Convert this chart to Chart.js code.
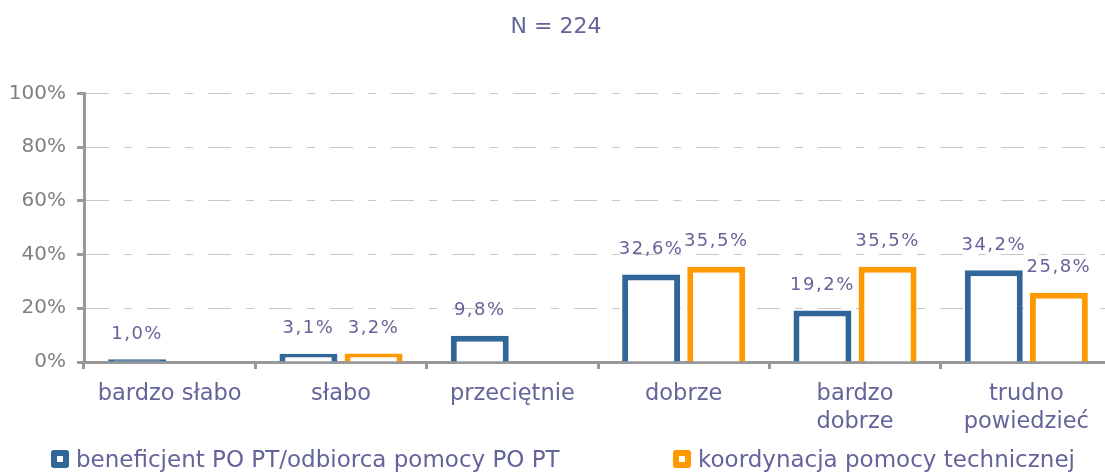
<!DOCTYPE html>
<html>
<head>
<meta charset="utf-8">
<script src="https://cdn.jsdelivr.net/npm/chart.js@4/dist/chart.umd.min.js"></script>
<style>
    body { margin: 0; background: #fff; }
    #wrap { width: 1105px; height: 473px; overflow: hidden; }
</style>
</head>
<body>
<div id="wrap"><canvas id="chart" width="1112" height="473"></canvas></div>
<script>
const kategorie = ['bardzo słabo', 'słabo', 'przeciętnie', 'dobrze', ['bardzo', 'dobrze'], ['trudno', 'powiedzieć']];
const beneficjent = [1.0, 3.1, 9.8, 32.6, 19.2, 34.2];
const koordynacja = [null, 3.2, null, 35.5, 35.5, 25.8];
const serie = ['beneficjent PO PT/odbiorca pomocy PO PT', 'koordynacja pomocy technicznej'];
const yTicks = [0, 20, 40, 60, 80, 100];
const tytul = 'N = 224';

const TEXT = '#64649a';
const AXIS = '#999999';
const BLUE = '#306698';
const ORANGE = '#ff9900';

Chart.defaults.font.family = "'DejaVu Sans', Verdana, sans-serif";

// bardzo niskie słupki są w całości obrysem
function fillFor(color) {
    return ctx => (ctx.raw !== null && ctx.raw < 2) ? color : '#ffffff';
}

// etykiety wartości nad słupkami
const valueLabels = {
    id: 'valueLabels',
    afterDatasetsDraw(chart) {
        const ctx = chart.ctx;
        ctx.save();
        ctx.font = "18px 'DejaVu Sans'";
        ctx.fillStyle = TEXT;
        ctx.textAlign = 'center';
        ctx.textBaseline = 'middle';
        ctx.letterSpacing = '1.5px';
        chart.data.datasets.forEach((ds, i) => {
            chart.getDatasetMeta(i).data.forEach((el, j) => {
                const v = ds.data[j];
                if (v === null || v === undefined) return;
                ctx.fillText(v.toFixed(1).replace('.', ',') + '%', el.x, el.y - 25);
            });
        });
        ctx.restore();
    }
};

// legenda na dole
const bottomLegend = {
    id: 'bottomLegend',
    afterDraw(chart) {
        const ctx = chart.ctx;
        ctx.save();
        ctx.font = "23px 'DejaVu Sans'";
        const box = 18, gapText = 7, starts = [51, 673];
        const cy = 459;
        chart.data.datasets.forEach((ds, i) => {
            const x = starts[i];
            ctx.fillStyle = ds.borderColor;
            ctx.beginPath();
            ctx.roundRect(x, cy - box / 2, box, box, 3);
            ctx.fill();
            ctx.fillStyle = '#fff';
            ctx.fillRect(x + 6, cy - 3, 6, 6);
            ctx.fillStyle = TEXT;
            ctx.textAlign = 'left';
            ctx.textBaseline = 'middle';
            ctx.fillText(ds.label, x + box + gapText, cy + 2);
        });
        ctx.restore();
    }
};

new Chart(document.getElementById('chart'), {
    type: 'bar',
    data: {
        labels: kategorie,
        datasets: [{
            label: serie[0],
            data: beneficjent,
            backgroundColor: fillFor(BLUE),
            borderColor: BLUE,
            borderWidth: 6
        }, {
            label: serie[1],
            data: koordynacja,
            backgroundColor: fillFor(ORANGE),
            borderColor: ORANGE,
            borderWidth: 6
        }]
    },
    options: {
        responsive: false,
        animation: false,
        categoryPercentage: 0.76,
        barPercentage: 0.89,
        layout: { padding: { left: 0, right: 0, top: 0, bottom: 0 } },
        plugins: {
            legend: { display: false },
            tooltip: { enabled: false },
            title: {
                display: true,
                text: tytul,
                color: TEXT,
                font: { size: 22, weight: 'normal' },
                padding: { top: 14, bottom: 53 }
            }
        },
        scales: {
            x: {
                afterFit(scale) { scale.height = 111; },
                grid: {
                    drawOnChartArea: false,
                    drawTicks: true,
                    tickLength: 7,
                    tickColor: AXIS,
                    tickWidth: 3
                },
                border: { color: AXIS, width: 3 },
                ticks: {
                    color: TEXT,
                    font: { size: 22.5, lineHeight: 1.25 },
                    padding: 11,
                    maxRotation: 0,
                    autoSkip: false
                }
            },
            y: {
                min: 0,
                max: 100,
                afterFit(scale) { scale.width = 84; },
                afterBuildTicks(scale) { scale.ticks = yTicks.map(v => ({ value: v })); },
                grid: {
                    color: '#c8c8c8',
                    lineWidth: 1,
                    tickLength: 7,
                    tickColor: AXIS,
                    tickWidth: 3,
                    tickBorderDash: []
                },
                border: { color: AXIS, width: 3, dash: [23, 15, 8, 15] },
                ticks: {
                    color: '#808080',
                    font: { size: 20 },
                    padding: 11,
                    callback: v => v + '%'
                }
            }
        }
    },
    plugins: [valueLabels, bottomLegend]
});
</script>
</body>
</html>
